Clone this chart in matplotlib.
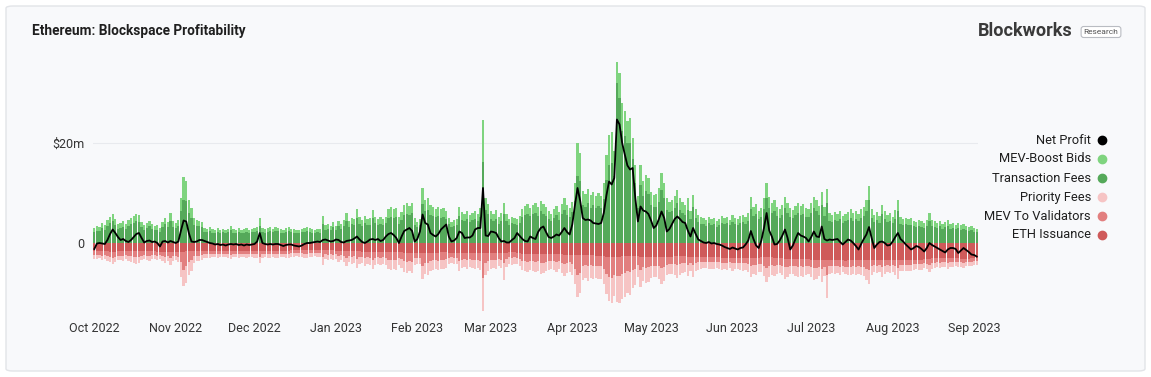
import numpy as np
import pandas as pd
import matplotlib
matplotlib.use("Agg")
from matplotlib import pyplot as plt
from matplotlib.patches import FancyBboxPatch
from matplotlib.lines import Line2D
import matplotlib.dates as mdates

# Daily values, $m, 1 Oct 2022 -> 2 Sep 2023
start_day = "2022-10-01"
end_day = "2023-09-02"

tx_fees = [
    2.3, 2.5, 2.4, 3.0, 2.7, 3.5, 4.0, 4.4, 3.7, 2.9,
    3.1, 3.3, 2.9, 3.5, 3.8, 4.1, 4.4, 4.2, 3.2, 2.7,
    3.0, 3.4, 2.9, 2.6, 2.7, 2.3, 3.2, 3.8, 3.2, 4.5,
    3.3, 3.0, 3.4, 6.4, 8.6, 8.4, 6.1, 5.1, 3.7, 3.4,
    3.4, 3.2, 2.3, 2.2, 2.4, 2.1, 2.0, 2.3, 2.1, 2.2,
    2.0, 2.2, 2.6, 2.1, 2.1, 2.3, 2.0, 2.1, 2.3, 2.1,
    2.2, 2.3, 2.4, 3.5, 2.3, 2.1, 2.3, 2.5, 2.2, 2.4,
    2.4, 2.1, 2.1, 2.3, 2.4, 2.2, 2.1, 2.0, 2.1, 2.2,
    2.3, 2.5, 2.3, 2.1, 2.1, 2.2, 2.1, 3.9, 2.7, 2.9,
    2.6, 3.2, 2.6, 3.4, 2.9, 3.5, 4.4, 3.3, 3.8, 3.6,
    5.0, 3.9, 3.5, 4.1, 3.6, 3.7, 5.0, 4.0, 3.7, 3.9,
    3.7, 4.0, 5.0, 5.3, 5.1, 5.3, 3.9, 4.7, 5.6, 5.9,
    5.6, 6.0, 3.7, 3.2, 3.6, 7.8, 6.4, 6.6, 5.7, 5.4,
    5.2, 5.5, 5.1, 5.3, 4.9, 3.8, 3.2, 3.5, 3.7, 5.4,
    4.7, 4.4, 4.8, 4.2, 4.6, 4.9, 4.4, 5.2, 16.3, 6.6,
    5.9, 4.8, 4.4, 4.9, 3.9, 4.5, 5.9, 4.4, 3.7, 4.0,
    3.8, 3.6, 4.1, 5.2, 5.6, 5.9, 5.4, 5.8, 6.1, 5.5,
    6.4, 5.9, 5.4, 4.8, 4.4, 5.1, 5.6, 4.7, 5.8, 6.7,
    5.7, 5.2, 6.2, 8.5, 13.5, 12.5, 7.7, 7.3, 8.0, 7.1,
    7.6, 7.0, 7.4, 7.1, 8.8, 12.7, 15.7, 16.1, 13.5, 32.0,
    29.0, 22.5, 21.5, 20.0, 20.0, 16.8, 12.0, 7.1, 11.7, 9.5,
    10.4, 9.8, 7.6, 7.2, 7.3, 8.2, 10.6, 9.0, 6.7, 6.2,
    6.4, 7.1, 8.0, 6.7, 6.1, 5.7, 6.7, 4.9, 7.3, 5.1,
    4.2, 3.9, 3.8, 3.5, 4.0, 3.6, 3.8, 3.3, 3.7, 4.1,
    3.8, 4.0, 3.6, 4.2, 3.8, 3.6, 4.1, 4.3, 3.9, 4.5,
    6.9, 5.5, 5.9, 4.9, 5.3, 6.8, 9.0, 7.0, 6.0, 6.5,
    5.4, 5.1, 5.7, 7.0, 6.0, 5.3, 5.1, 5.7, 6.0, 5.6,
    5.9, 5.3, 5.2, 6.0, 7.0, 6.5, 5.7, 7.7, 5.4, 8.1,
    4.5, 4.2, 4.7, 4.4, 4.9, 4.1, 4.4, 4.7, 5.1, 4.5,
    4.9, 4.4, 5.1, 5.5, 6.5, 8.6, 5.1, 4.2, 4.7, 4.1,
    5.8, 4.8, 4.2, 4.5, 4.0, 4.9, 6.5, 3.9, 3.7, 3.8,
    3.6, 3.7, 3.4, 3.2, 3.5, 3.3, 3.1, 3.5, 4.5, 3.5,
    3.3, 3.0, 3.4, 2.9, 3.2, 3.4, 2.9, 3.1, 2.8, 3.0,
    2.7, 2.9, 2.6, 2.4, 2.6, 2.3, 2.2,
]

mev_boost_bids = [
    0.8, 0.9, 0.8, 1.0, 0.9, 1.1, 1.2, 1.4, 1.2, 1.0,
    1.0, 1.1, 0.9, 1.1, 1.2, 1.3, 1.4, 1.4, 1.0, 0.9,
    1.0, 1.1, 0.9, 0.8, 0.9, 0.8, 1.0, 1.3, 1.1, 1.6,
    1.1, 1.0, 1.2, 2.6, 4.6, 4.0, 2.5, 1.9, 1.3, 1.2,
    1.1, 1.0, 0.7, 0.7, 0.8, 0.7, 0.6, 0.7, 0.6, 0.7,
    0.6, 0.7, 0.9, 0.7, 0.6, 0.7, 0.6, 0.7, 0.8, 0.6,
    0.7, 0.7, 0.8, 1.6, 0.7, 0.7, 0.8, 0.8, 0.7, 0.8,
    0.7, 0.7, 0.6, 0.7, 0.8, 0.7, 0.7, 0.6, 0.6, 0.7,
    0.8, 0.8, 0.7, 0.7, 0.6, 0.7, 0.7, 1.6, 0.9, 1.0,
    0.9, 1.0, 0.8, 1.1, 0.9, 1.2, 1.6, 1.1, 1.2, 1.2,
    1.8, 1.3, 1.2, 1.4, 1.2, 1.3, 1.7, 1.3, 1.2, 1.3,
    1.2, 1.3, 1.8, 1.9, 1.8, 1.8, 1.3, 1.6, 2.0, 2.1,
    1.9, 2.1, 1.3, 1.1, 1.2, 3.2, 2.2, 2.4, 1.9, 1.8,
    1.7, 1.8, 1.7, 1.8, 1.6, 1.2, 1.1, 1.1, 1.2, 1.9,
    1.5, 1.4, 1.6, 1.4, 1.5, 1.6, 1.5, 1.8, 8.4, 2.4,
    1.9, 1.6, 1.5, 1.7, 1.3, 1.5, 2.1, 1.4, 1.2, 1.3,
    1.2, 1.2, 1.3, 1.7, 1.8, 1.9, 1.7, 1.8, 1.9, 1.8,
    2.1, 2.0, 1.8, 1.6, 1.5, 1.7, 1.9, 1.5, 2.0, 2.3,
    1.9, 1.8, 2.1, 3.5, 6.5, 5.5, 2.8, 2.5, 2.8, 2.5,
    2.6, 2.4, 2.6, 2.4, 3.2, 5.0, 6.0, 6.2, 5.0, 4.3,
    5.0, 5.5, 5.0, 4.5, 5.0, 4.2, 3.7, 2.4, 4.0, 3.0,
    3.3, 3.2, 2.6, 2.5, 2.5, 2.8, 3.4, 3.0, 2.3, 2.1,
    2.2, 2.4, 2.7, 2.3, 2.1, 1.9, 2.3, 1.6, 2.4, 1.7,
    1.4, 1.3, 1.2, 1.1, 1.3, 1.2, 1.3, 1.1, 1.2, 1.4,
    1.2, 1.3, 1.1, 1.4, 1.3, 1.2, 1.3, 1.4, 1.3, 1.5,
    2.3, 1.8, 1.9, 1.6, 1.7, 2.2, 3.0, 2.3, 2.0, 2.1,
    1.8, 1.7, 1.9, 2.3, 2.0, 1.7, 1.6, 1.8, 2.0, 1.8,
    1.9, 1.7, 1.7, 2.0, 2.3, 2.2, 1.8, 2.6, 1.8, 2.7,
    1.5, 1.4, 1.5, 1.4, 1.6, 1.3, 1.5, 1.6, 1.7, 1.5,
    1.6, 1.5, 1.7, 1.8, 2.2, 2.9, 1.7, 1.4, 1.5, 1.3,
    1.9, 1.6, 1.4, 1.5, 1.3, 1.7, 2.2, 1.3, 1.2, 1.3,
    1.2, 1.3, 1.1, 1.0, 1.2, 1.1, 1.0, 1.1, 1.5, 1.2,
    1.1, 1.0, 1.1, 0.9, 1.0, 1.2, 1.0, 1.0, 0.9, 1.0,
    0.9, 1.0, 0.8, 0.8, 0.9, 0.7, 0.7,
]

eth_issuance = [
    1.6, 1.6, 1.6, 1.6, 1.6, 1.6, 1.7, 1.7, 1.7, 1.6,
    1.6, 1.6, 1.6, 1.6, 1.6, 1.6, 1.6, 1.6, 1.6, 1.6,
    1.6, 1.6, 1.6, 1.6, 1.7, 1.7, 1.7, 1.7, 1.7, 1.7,
    1.7, 1.7, 1.7, 1.7, 1.7, 1.6, 1.5, 1.5, 1.5, 1.5,
    1.5, 1.5, 1.5, 1.5, 1.5, 1.5, 1.5, 1.5, 1.5, 1.5,
    1.5, 1.5, 1.5, 1.5, 1.5, 1.5, 1.5, 1.5, 1.5, 1.5,
    1.5, 1.5, 1.5, 1.5, 1.5, 1.5, 1.5, 1.5, 1.5, 1.5,
    1.5, 1.5, 1.5, 1.5, 1.5, 1.4, 1.4, 1.4, 1.4, 1.4,
    1.4, 1.4, 1.4, 1.4, 1.4, 1.4, 1.4, 1.4, 1.4, 1.4,
    1.4, 1.4, 1.5, 1.5, 1.5, 1.5, 1.5, 1.5, 1.6, 1.6,
    1.6, 1.6, 1.7, 1.7, 1.8, 1.8, 1.8, 1.8, 1.8, 1.8,
    1.8, 1.8, 1.8, 1.8, 1.8, 1.8, 1.8, 1.8, 1.9, 1.9,
    1.9, 1.9, 1.9, 1.9, 1.9, 2.0, 2.0, 2.0, 1.9, 1.9,
    1.9, 1.9, 1.8, 1.8, 1.8, 1.9, 1.9, 1.9, 1.9, 2.0,
    2.0, 2.0, 2.0, 2.0, 2.0, 2.0, 2.0, 2.0, 2.0, 2.0,
    2.0, 2.0, 2.0, 2.0, 2.0, 2.0, 1.9, 1.9, 1.8, 1.8,
    1.8, 1.9, 2.0, 2.1, 2.1, 2.1, 2.1, 2.1, 2.1, 2.1,
    2.1, 2.2, 2.2, 2.2, 2.2, 2.2, 2.2, 2.2, 2.2, 2.3,
    2.3, 2.3, 2.3, 2.3, 2.3, 2.3, 2.3, 2.3, 2.4, 2.4,
    2.4, 2.5, 2.5, 2.6, 2.6, 2.7, 2.7, 2.7, 2.7, 2.7,
    2.7, 2.6, 2.6, 2.6, 2.6, 2.6, 2.6, 2.6, 2.7, 2.7,
    2.7, 2.7, 2.7, 2.8, 2.8, 2.7, 2.7, 2.7, 2.7, 2.7,
    2.7, 2.6, 2.6, 2.6, 2.6, 2.6, 2.7, 2.7, 2.7, 2.7,
    2.7, 2.7, 2.7, 2.8, 2.8, 2.8, 2.8, 2.8, 2.8, 2.9,
    2.9, 2.9, 2.9, 2.9, 2.9, 2.9, 2.9, 2.9, 2.9, 2.9,
    2.9, 2.9, 2.9, 2.9, 2.8, 2.8, 2.8, 2.8, 2.8, 2.9,
    2.9, 3.0, 3.0, 3.1, 3.2, 3.2, 3.2, 3.2, 3.2, 3.2,
    3.2, 3.2, 3.2, 3.3, 3.3, 3.3, 3.3, 3.3, 3.4, 3.4,
    3.4, 3.4, 3.4, 3.4, 3.4, 3.4, 3.5, 3.4, 3.4, 3.4,
    3.4, 3.4, 3.4, 3.4, 3.4, 3.4, 3.3, 3.3, 3.3, 3.3,
    3.3, 3.3, 3.3, 3.3, 3.3, 3.3, 3.3, 3.3, 3.3, 3.3,
    3.3, 3.3, 3.3, 3.3, 3.3, 3.3, 3.2, 3.2, 3.1, 3.0,
    3.0, 3.0, 3.0, 3.0, 3.0, 3.0, 3.0, 3.0, 3.0, 3.0,
    3.1, 3.1, 3.1, 3.1, 3.0, 3.0, 3.0,
]

mev_to_validators = [
    0.8, 0.8, 0.7, 0.9, 0.8, 0.9, 1.0, 1.2, 1.0, 0.9,
    0.9, 0.9, 0.8, 0.9, 1.0, 1.1, 1.2, 1.2, 0.9, 0.8,
    0.9, 0.9, 0.8, 0.7, 0.8, 0.7, 0.9, 1.1, 0.9, 1.3,
    0.9, 0.9, 1.0, 2.0, 3.6, 3.0, 2.2, 1.8, 1.1, 1.0,
    1.0, 0.9, 0.7, 0.7, 0.7, 0.6, 0.6, 0.7, 0.6, 0.6,
    0.6, 0.7, 0.8, 0.6, 0.6, 0.7, 0.6, 0.6, 0.7, 0.6,
    0.6, 0.7, 0.7, 1.3, 0.7, 0.6, 0.7, 0.7, 0.6, 0.7,
    0.7, 0.6, 0.6, 0.7, 0.7, 0.6, 0.6, 0.6, 0.6, 0.6,
    0.7, 0.7, 0.6, 0.6, 0.6, 0.6, 0.6, 1.4, 0.8, 0.9,
    0.8, 0.9, 0.7, 1.0, 0.8, 1.0, 1.4, 1.0, 1.1, 1.0,
    1.5, 1.1, 1.0, 1.2, 1.0, 1.1, 1.5, 1.1, 1.0, 1.1,
    1.0, 1.1, 1.5, 1.6, 1.5, 1.6, 1.1, 1.4, 1.7, 1.8,
    1.6, 1.8, 1.1, 1.0, 1.0, 2.6, 1.9, 2.0, 1.6, 1.5,
    1.5, 1.6, 1.5, 1.5, 1.4, 1.0, 0.9, 1.0, 1.0, 1.6,
    1.3, 1.2, 1.4, 1.2, 1.3, 1.4, 1.3, 1.5, 5.0, 2.0,
    1.6, 1.4, 1.3, 1.4, 1.1, 1.3, 2.0, 1.2, 1.0, 1.1,
    1.0, 1.0, 1.1, 1.4, 1.5, 1.6, 1.4, 1.5, 1.6, 1.5,
    1.8, 1.7, 1.5, 1.4, 1.3, 1.4, 1.6, 1.3, 1.7, 1.9,
    1.6, 1.5, 1.8, 2.8, 4.0, 3.6, 2.2, 2.0, 2.2, 2.0,
    2.1, 2.0, 2.1, 2.0, 2.6, 3.5, 4.0, 4.2, 3.6, 3.8,
    3.8, 3.6, 3.3, 3.0, 3.2, 2.8, 2.5, 1.8, 2.6, 2.0,
    2.2, 2.1, 1.8, 1.7, 1.7, 1.9, 2.3, 2.0, 1.6, 1.5,
    1.5, 1.6, 1.8, 1.6, 1.4, 1.3, 1.6, 1.2, 1.7, 1.2,
    1.1, 1.0, 1.0, 0.9, 1.0, 1.0, 1.0, 0.9, 1.0, 1.1,
    1.0, 1.1, 0.9, 1.1, 1.0, 1.0, 1.1, 1.1, 1.0, 1.2,
    1.7, 1.4, 1.5, 1.3, 1.3, 1.7, 2.2, 1.8, 1.6, 1.6,
    1.4, 1.3, 1.5, 1.7, 1.5, 1.3, 1.3, 1.4, 1.5, 1.4,
    1.5, 1.3, 1.3, 1.5, 1.7, 1.6, 1.4, 1.9, 1.4, 3.0,
    1.2, 1.1, 1.2, 1.1, 1.3, 1.1, 1.2, 1.3, 1.3, 1.2,
    1.3, 1.2, 1.3, 1.4, 1.7, 2.0, 1.3, 1.1, 1.2, 1.1,
    1.5, 1.3, 1.1, 1.2, 1.1, 1.3, 1.7, 1.0, 1.0, 1.0,
    1.0, 1.0, 0.9, 0.8, 0.9, 0.9, 0.8, 0.9, 1.2, 0.9,
    0.9, 0.8, 0.9, 0.8, 0.8, 0.9, 0.8, 0.8, 0.7, 0.8,
    0.7, 0.8, 0.7, 0.7, 0.7, 0.6, 0.6,
]

priority_fees = [
    0.7, 0.8, 0.7, 0.9, 0.8, 1.0, 1.1, 1.2, 1.0, 0.9,
    0.9, 1.0, 0.8, 1.0, 1.1, 1.2, 1.3, 1.2, 0.9, 0.8,
    0.9, 1.0, 0.8, 0.8, 0.8, 0.7, 0.9, 1.1, 0.9, 1.3,
    0.9, 0.8, 1.0, 3.0, 3.2, 3.4, 2.6, 2.2, 1.4, 1.1,
    1.0, 0.9, 0.7, 0.7, 0.7, 0.7, 0.6, 0.7, 0.6, 0.7,
    0.6, 0.7, 0.8, 0.7, 0.6, 0.7, 0.6, 0.7, 0.7, 0.6,
    0.7, 0.7, 0.8, 1.2, 0.7, 0.7, 0.7, 0.8, 0.7, 0.8,
    0.7, 0.7, 0.6, 0.7, 0.8, 0.7, 0.7, 0.6, 0.7, 0.7,
    0.8, 0.8, 0.7, 0.7, 0.6, 0.7, 0.7, 1.6, 0.9, 1.0,
    0.9, 1.1, 0.9, 1.2, 1.0, 1.3, 1.7, 1.2, 1.4, 1.3,
    1.9, 1.5, 1.3, 1.6, 1.4, 1.4, 1.9, 1.5, 1.3, 1.5,
    1.4, 1.5, 1.9, 2.0, 1.9, 2.0, 1.5, 1.7, 2.1, 2.2,
    2.0, 2.3, 1.4, 1.2, 1.3, 2.5, 2.3, 2.4, 2.0, 1.9,
    1.8, 1.9, 1.8, 1.8, 1.7, 1.3, 1.2, 1.2, 1.3, 2.0,
    1.6, 1.5, 1.7, 1.5, 1.6, 1.7, 1.6, 1.9, 6.5, 2.4,
    2.0, 1.7, 1.6, 1.8, 1.4, 1.6, 3.5, 1.6, 1.3, 1.4,
    1.3, 1.3, 1.4, 1.8, 2.0, 2.1, 1.9, 2.0, 2.1, 2.0,
    2.3, 2.1, 1.9, 1.7, 1.6, 1.8, 2.0, 1.7, 2.1, 2.4,
    2.0, 1.9, 2.2, 3.0, 4.5, 4.0, 2.8, 2.6, 2.9, 2.6,
    2.7, 2.5, 2.6, 2.5, 3.0, 4.0, 4.8, 5.0, 4.2, 5.3,
    5.5, 5.0, 4.8, 4.4, 4.5, 3.6, 3.2, 2.4, 3.4, 2.8,
    3.0, 2.9, 2.4, 2.3, 2.3, 2.6, 3.2, 2.8, 2.1, 2.0,
    2.0, 2.2, 2.5, 2.1, 1.9, 1.8, 2.2, 1.6, 2.3, 1.6,
    1.5, 1.4, 1.3, 1.2, 1.4, 1.3, 1.4, 1.2, 1.3, 1.4,
    1.3, 1.4, 1.2, 1.5, 1.3, 1.3, 1.4, 1.5, 1.4, 1.6,
    2.2, 1.8, 1.9, 1.6, 1.7, 2.1, 2.8, 2.2, 2.0, 2.0,
    1.8, 1.7, 1.9, 2.3, 2.0, 1.7, 1.7, 1.9, 2.0, 1.9,
    2.0, 1.8, 1.7, 2.0, 2.3, 2.2, 1.9, 2.6, 1.8, 4.5,
    1.5, 1.4, 1.5, 1.4, 1.6, 1.3, 1.5, 1.6, 1.7, 1.5,
    1.6, 1.5, 1.7, 1.8, 2.2, 2.8, 1.7, 1.4, 1.5, 1.3,
    1.9, 1.6, 1.4, 1.5, 1.3, 1.7, 2.2, 1.3, 1.2, 1.3,
    1.2, 1.3, 1.1, 1.0, 1.2, 1.1, 1.0, 1.1, 1.5, 1.2,
    1.1, 1.0, 1.1, 1.0, 1.0, 1.2, 1.0, 1.0, 0.9, 1.0,
    0.9, 1.0, 0.8, 0.8, 0.9, 0.8, 0.7,
]

net_profit = [
    -1.2, -0.1, 0.0, -0.1, -0.2, 0.6, 1.8, 2.7, 2.0, 1.2,
    0.6, 0.8, 0.4, 0.2, 0.6, 1.2, 1.8, 2.0, 1.0, 0.1,
    0.4, 0.5, 0.2, 0.3, 0.0, -0.7, 0.3, 0.4, 0.1, 0.4,
    0.2, 0.0, 0.3, 2.5, 4.5, 4.3, 2.0, 0.3, 0.2, 0.3,
    0.6, 0.6, 0.4, 0.2, 0.0, -0.1, -0.3, -0.2, -0.4, -0.3,
    -0.5, -0.3, -0.2, -0.3, -0.2, -0.4, -0.3, -0.5, -0.3, -0.4,
    -0.3, -0.2, 0.3, 2.0, 0.0, -0.2, -0.3, -0.2, -0.3, -0.2,
    -0.2, -0.4, -0.6, -0.4, -0.3, -0.3, -0.5, -0.6, -0.7, -0.5,
    -0.2, 0.0, 0.0, 0.1, 0.2, 0.3, 0.2, 0.6, 0.7, 0.5,
    0.3, 0.4, 0.7, 0.6, 0.2, 0.1, 0.4, 0.5, 0.6, 0.9,
    1.3, 0.7, 0.2, 0.0, 0.3, 0.7, 0.8, 0.6, 0.8, 0.4,
    0.6, 1.3, 1.8, 2.0, 1.6, 1.0, 0.0, 1.3, 2.4, 2.7,
    3.0, 2.4, 0.3, 0.8, 2.3, 5.7, 4.0, 3.7, 2.0, 1.6,
    1.3, 1.8, 2.7, 3.2, 3.7, 1.3, 0.3, 0.5, 1.0, 2.3,
    2.0, 1.0, 1.1, 1.1, 1.5, 2.7, 3.0, 3.0, 11.0, 1.5,
    1.4, 2.3, 2.2, 2.0, 1.0, 0.3, 0.4, 0.1, 0.1, 0.6,
    1.0, 2.0, 1.4, 0.8, 0.4, 0.3, 1.3, 1.0, 0.8, 2.2,
    3.0, 3.3, 2.2, 1.2, 1.0, 1.3, 1.7, 1.5, 2.2, 3.0,
    2.2, 1.7, 3.7, 7.5, 11.0, 8.5, 5.0, 4.6, 4.7, 4.5,
    4.0, 3.9, 3.8, 4.0, 6.0, 9.5, 12.3, 11.7, 13.0, 24.7,
    23.7, 20.0, 17.7, 15.5, 14.7, 15.0, 9.0, 4.3, 7.3, 6.5,
    6.3, 5.8, 4.5, 3.0, 3.5, 4.8, 6.3, 5.0, 2.3, 2.8,
    3.8, 4.8, 5.3, 4.8, 4.2, 4.0, 2.5, 1.3, 3.0, 1.8,
    0.7, 0.4, 0.1, 0.0, 0.2, -0.1, 0.0, -0.2, -0.3, -0.5,
    -0.8, -1.0, -1.2, -0.9, -1.1, -1.3, -1.0, -0.9, -0.3, 0.5,
    2.4, 0.8, -0.5, -1.0, 0.5, 3.0, 6.0, 2.5, 1.3, -0.3,
    -0.2, 0.5, 1.5, 2.7, 1.0, -1.3, -0.5, 0.8, 2.0, 1.5,
    1.3, 1.0, 0.3, 1.2, 2.3, 1.3, 1.2, 3.3, 0.8, 0.5,
    0.7, 0.6, 0.7, 0.8, 0.2, -0.3, 0.2, 0.7, 0.5, 0.0,
    -0.6, -1.3, -0.2, 0.8, 1.7, 3.2, 1.0, -1.0, -0.3, 0.2,
    0.3, 0.0, -0.5, -0.4, 0.3, 1.2, 2.0, 0.8, 0.3, -0.3,
    -0.8, -1.3, -1.0, -0.6, -0.8, -1.2, -1.7, -1.0, 0.0, -0.4,
    -0.7, -1.0, -1.3, -1.6, -1.9, -1.3, -1.0, -1.0, -1.2, -2.0,
    -1.5, -1.0, -1.4, -1.8, -2.3, -2.4, -2.7,
]

month_ticks = ["2022-10-01", "2022-11-01", "2022-12-01", "2023-01-01",
               "2023-02-01", "2023-03-01", "2023-04-01", "2023-05-01",
               "2023-06-01", "2023-07-01", "2023-08-01", "2023-09-01"]
month_labels = ["Oct 2022", "Nov 2022", "Dec 2022", "Jan 2023", "Feb 2023",
                "Mar 2023", "Apr 2023", "May 2023", "Jun 2023", "Jul 2023",
                "Aug 2023", "Sep 2023"]

legend_names = ["Net Profit", "MEV-Boost Bids", "Transaction Fees",
                "Priority Fees", "MEV To Validators", "ETH Issuance"]

# colours
c_net = "#000000"
c_mev = "#7fd47f"
c_tx = "#55a95a"
c_prio = "#f6c4c4"
c_mevval = "#e27f7f"
c_iss = "#cf5a5a"
legend_colors = [c_net, c_mev, c_tx, c_prio, c_mevval, c_iss]

plt.rcParams["font.family"] = ["Roboto", "DejaVu Sans"]

dates = pd.date_range(start_day, end_day, freq="D")
x = mdates.date2num(dates)
n = len(x)
for name, s in [("tx", tx_fees), ("mev", mev_boost_bids), ("iss", eth_issuance),
                ("mevval", mev_to_validators), ("prio", priority_fees), ("net", net_profit)]:
    if len(s) != n:
        raise ValueError(name + " has %d values, expected %d" % (len(s), n))

tx = np.array(tx_fees)
mev = np.array(mev_boost_bids)
iss = np.array(eth_issuance)
mevval = np.array(mev_to_validators)
prio = np.array(priority_fees)
net = np.array(net_profit)

W, H = 1151, 377
fig = plt.figure(figsize=(W / 100, H / 100), dpi=100)
fig.patch.set_facecolor("white")

# card background (behind the axes)
card = FancyBboxPatch((6 / W, 6 / H), 1139 / W, 365 / H,
                      boxstyle="round,pad=0,rounding_size=0.006",
                      transform=fig.transFigure, facecolor="#f8f9fb",
                      edgecolor="#e2e4e8", linewidth=1.0, zorder=-5)
fig.patches.append(card)

ax = fig.add_axes([93 / W, (H - 315) / H, 885 / W, 260 / H])
ax.set_facecolor("none")
ax.set_zorder(2)

bw = 0.86
ax.bar(x, tx, width=bw, color=c_tx, linewidth=0, zorder=2)
ax.bar(x, mev, width=bw, bottom=tx, color=c_mev, linewidth=0, zorder=2)
ax.bar(x, -iss, width=bw, color=c_iss, linewidth=0, zorder=2)
ax.bar(x, -mevval, width=bw, bottom=-iss, color=c_mevval, linewidth=0, zorder=2)
ax.bar(x, -prio, width=bw, bottom=-(iss + mevval), color=c_prio, linewidth=0, zorder=2)
ax.plot(x, net, color=c_net, linewidth=1.3, zorder=4)

ax.axhline(20, color="#e8eaee", linewidth=0.8, zorder=1)

ax.set_xlim(x[0] - 0.5, x[-1] + 0.5)
ax.set_ylim(-14.4, 37.6)
ax.set_yticks([0, 20])
ax.set_yticklabels(["0", "$20m"])
ax.set_xticks(mdates.date2num(pd.to_datetime(month_ticks)))
ax.set_xticklabels(month_labels)
ax.tick_params(axis="both", length=0, labelsize=9, labelcolor="#333333")
ax.tick_params(axis="y", pad=6)
ax.tick_params(axis="x", pad=5)
for sp in ax.spines.values():
    sp.set_visible(False)

# title and logo
fig.text(32 / W, 1 - 31 / H, "Ethereum: Blockspace Profitability",
         fontsize=9.8, fontweight="bold", color="#1f1f1f", va="center", ha="left")
fig.text(1073 / W, 1 - 31 / H, "Blockworks", fontsize=13, fontweight="bold",
         color="#3a3a3a", va="center", ha="right")
fig.text(1101 / W, 1 - 32 / H, "Research", fontsize=6, color="#555555",
         va="center", ha="center",
         bbox=dict(boxstyle="round,pad=0.3,rounding_size=0.3",
                   facecolor="white", edgecolor="#b9bcc2", linewidth=0.8))

# legend on the right
leg_y = [140, 159, 178, 197, 216, 235]
for name, col, yy in zip(legend_names, legend_colors, leg_y):
    fig.text(1091 / W, 1 - yy / H, name, fontsize=9.3, color="#1f1f1f",
             va="center", ha="right")
    fig.add_artist(Line2D([1102 / W], [1 - yy / H], marker="o", markersize=6,
                          color=col, linestyle="none", transform=fig.transFigure))

fig.savefig("out.png", dpi=100, facecolor=fig.get_facecolor())
